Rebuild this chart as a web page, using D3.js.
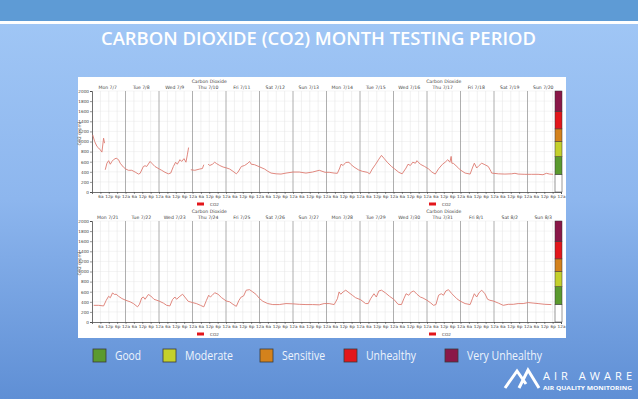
<!DOCTYPE html>
<html>
<head>
<meta charset="utf-8">
<script src="https://cdn.jsdelivr.net/npm/d3@7"></script>
<style>
body { margin: 0; overflow: hidden; }
svg { display: block; }
</style>
</head>
<body>
<div id="chart"></div>
<script>
var width = 638;
var height = 399;

var topDays = ["Mon 7/7", "Tue 7/8", "Wed 7/9", "Thu 7/10", "Fri 7/11", "Sat 7/12", "Sun 7/13",
               "Mon 7/14", "Tue 7/15", "Wed 7/16", "Thu 7/17", "Fri 7/18", "Sat 7/19", "Sun 7/20"];
var bottomDays = ["Mon 7/21", "Tue 7/22", "Wed 7/23", "Thu 7/24", "Fri 7/25", "Sat 7/26", "Sun 7/27",
                  "Mon 7/28", "Tue 7/29", "Wed 7/30", "Thu 7/31", "Fri 8/1", "Sat 8/2", "Sun 8/3"];
var hourLabels = ["6a", "12p", "6p", "12a"];
var yTickValues = [0, 200, 400, 600, 800, 1000, 1200, 1400, 1600, 1800, 2000];

var bandLimits = [0, 350, 700, 1000, 1250, 1600, 2000];
var bandColors = ["#ffffff", "#5b9a2e", "#c4d02c", "#d4821c", "#e3161b", "#8a1748"];

var legendNames = ["Good", "Moderate", "Sensitive", "Unhealthy", "Very Unhealthy"];
var legendColors = ["#5b9a2e", "#c4d02c", "#d4821c", "#e3161b", "#8a1748"];

// [hours from start of row, ppm] - gaps split the series
var topSeries = [
  [[0.5,1130],[1.9,1000],[3.6,900],[4.8,870],[5.9,835],[7.1,790],[8.3,1065],[9.0,967]],
  [[9.5,440],[10.7,570],[11.9,620],[13.1,550],[14.3,605],[15.4,640],[17.3,670],[19.0,640],[20.2,570],[22.6,490],
   [24.2,455],[26.1,430],[28.5,430],[30.9,395],[33.3,355],[34.5,370],[36.8,505],[38.0,520],[39.2,505],[41.6,605],
   [42.8,570],[45.1,505],[48.2,455],[49.9,430],[52.3,390],[54.7,360],[56.4,375],[58.3,505],[59.9,590],[61.1,550],
   [63.0,640],[64.2,605],[65.9,660],[67.3,590],[68.3,735],[69.2,880]],
  [[70.8,440],[73.7,430],[77.2,455],[79.1,465],[80.1,540]],
  [[83.2,550],[84.4,525],[86.3,550],[87.9,590],[89.1,565],[91.5,525],[93.9,495],[96.5,475],[98.6,455],[101.0,410],
   [103.4,360],[104.6,395],[107.0,505],[109.3,525],[111.7,570],[112.9,605],[114.1,550],[116.5,540],[120.3,495],
   [123.6,455],[126.0,410],[128.3,375],[131.9,360],[135.4,355],[139.0,375],[144.0,395],[148.5,395],[153.3,375],
   [158.0,395],[162.8,430],[167.0,390],[169.9,390],[173.5,375],[175.8,370],[177.5,475],[178.4,550],[179.9,525],
   [181.8,585],[184.1,590],[185.3,550],[187.7,495],[190.8,440],[193.6,410],[197.2,390],[198.9,360],[200.8,455],
   [203.2,550],[205.5,650],[207.4,725],[209.1,670],[211.5,590],[214.6,505],[216.9,455],[219.8,390],[222.2,360],
   [225.0,475],[226.4,550],[228.1,525],[229.8,590],[231.7,570],[232.8,620],[235.2,550],[238.3,505],[241.2,455],
   [243.5,395],[245.9,355],[248.3,460],[251.1,550],[253.0,590],[254.9,640],[256.4,590],[257.3,705],[257.8,570],
   [259.0,565],[262.1,487],[263.7,440],[267.3,375],[270.9,355],[272.5,475],[273.9,570],[275.6,475],[277.3,525],
   [279.2,570],[281.5,540],[283.9,505],[285.8,410],[286.3,375],[291.1,360],[295.8,355],[300.6,360],[303.0,370],
   [305.3,355],[310.1,350],[314.8,350],[319.6,350],[323.1,342],[325.5,370],[327.9,355],[330.3,350]]
];

var bottomSeries = [
  [[1.2,330],[4.8,330],[8.3,318],[10.2,430],[11.9,510],[13.1,480],[14.7,575],[16.2,545],[17.3,550],[19.0,510],
   [21.4,465],[24.2,430],[27.3,400],[29.7,365],[32.6,300],[34.0,350],[35.6,475],[36.8,495],[38.0,450],[40.4,545],
   [42.1,515],[44.4,450],[48.0,415],[51.1,375],[53.5,330],[55.8,318],[57.7,445],[59.4,495],[60.6,450],[63.0,510],
   [64.9,550],[66.5,495],[68.9,410],[72.0,385],[74.8,365],[77.7,330],[80.1,300],[82.0,430],[83.6,530],[84.8,495],
   [86.2,530],[87.9,580],[90.3,550],[92.7,485],[96.2,415],[98.6,400],[101.0,350],[103.4,310],[105.3,430],[106.9,495],
   [108.6,515],[110.5,630],[112.9,640],[115.2,595],[117.6,545],[120.0,465],[122.4,410],[125.9,365],[129.5,345],
   [134.2,345],[139.0,365],[143.7,360],[148.5,350],[153.3,345],[158.0,345],[162.8,340],[166.3,365],[169.9,365],
   [173.5,345],[175.8,460],[177.0,595],[178.2,550],[179.9,595],[181.8,630],[184.1,580],[186.5,530],[188.9,480],
   [192.5,440],[196.0,365],[197.9,365],[199.6,460],[202.0,560],[203.7,495],[205.5,615],[207.4,630],[210.3,575],
   [213.1,510],[216.2,450],[219.3,350],[221.7,345],[223.4,460],[225.0,560],[226.9,530],[228.8,595],[230.5,615],
   [232.8,550],[235.2,495],[237.1,475],[240.0,430],[242.3,385],[244.7,330],[246.4,345],[248.3,530],[250.2,560],
   [251.8,530],[253.5,615],[255.4,640],[257.8,560],[261.4,460],[263.7,415],[267.3,365],[270.9,345],[272.5,460],
   [273.9,560],[275.6,495],[277.3,580],[279.2,630],[281.5,560],[283.4,450],[285.1,430],[287.5,415],[291.1,375],
   [294.6,330],[298.2,350],[301.8,350],[305.3,365],[308.9,365],[312.5,385],[316.0,375],[319.6,365],[324.4,350],
   [329.1,345]]
];

var svg = d3.select("#chart")
    .append("svg")
    .attr("width", width)
    .attr("height", height);

var defs = svg.append("defs");
var grad = defs.append("linearGradient")
    .attr("id", "bg")
    .attr("x1", 0).attr("y1", 0).attr("x2", 0).attr("y2", 1);
grad.append("stop").attr("offset", "0%").attr("stop-color", "#a2c8f6");
grad.append("stop").attr("offset", "50%").attr("stop-color", "#8db6ee");
grad.append("stop").attr("offset", "100%").attr("stop-color", "#5f8fd5");

// background
svg.append("rect").attr("x", 0).attr("y", 0).attr("width", width).attr("height", height)
    .attr("fill", "url(#bg)");
svg.append("rect").attr("x", 0).attr("y", 0).attr("width", width).attr("height", 21)
    .attr("fill", "#5e9bd5");
svg.append("rect").attr("x", 0).attr("y", 21).attr("width", width).attr("height", 3)
    .attr("fill", "#ffffff");

svg.append("text")
    .attr("x", 101)
    .attr("y", 45)
    .attr("textLength", 435)
    .attr("lengthAdjust", "spacingAndGlyphs")
    .attr("font-family", "'Open Sans', sans-serif")
    .attr("font-weight", 600)
    .attr("font-size", "18.5px")
    .attr("fill", "#ffffff")
    .text("CARBON DIOXIDE (CO2) MONTH TESTING PERIOD");

// white panel
svg.append("rect").attr("x", 78).attr("y", 77).attr("width", 488).attr("height", 261)
    .attr("fill", "#ffffff");

var x = d3.scaleLinear().domain([0, 336]).range([92, 561]);

function drawRow(top, bottom, days, series, legendY) {
    var y = d3.scaleLinear().domain([0, 2000]).range([bottom, top]);
    var g = svg.append("g").attr("class", "row");

    // horizontal grid
    g.append("g").selectAll("line")
        .data(yTickValues.slice(1))
        .enter().append("line")
        .attr("x1", x(0)).attr("x2", x(336))
        .attr("y1", function (d) { return y(d); })
        .attr("y2", function (d) { return y(d); })
        .attr("stroke", "#e8e8e8").attr("stroke-width", 0.5);

    // vertical grid, darker at midnight
    g.append("g").selectAll("line")
        .data(d3.range(6, 336, 6))
        .enter().append("line")
        .attr("x1", function (d) { return x(d); })
        .attr("x2", function (d) { return x(d); })
        .attr("y1", top).attr("y2", bottom)
        .attr("stroke", function (d) { return d % 24 === 0 ? "#9a9a9a" : "#e0e0e0"; })
        .attr("stroke-width", function (d) { return d % 24 === 0 ? 0.8 : 0.5; });

    // titles
    [84, 252].forEach(function (h) {
        g.append("text")
            .attr("x", x(h)).attr("y", top - 8)
            .attr("text-anchor", "middle")
            .attr("font-family", "DejaVu Sans, sans-serif")
            .attr("font-size", "4.6px")
            .attr("fill", "#444")
            .text("Carbon Dioxide");
    });

    g.append("g").selectAll("text")
        .data(days)
        .enter().append("text")
        .attr("x", function (d, i) { return x(i * 24 + 12) - 1; })
        .attr("y", top - 2)
        .attr("text-anchor", "middle")
        .attr("font-family", "DejaVu Sans, sans-serif")
        .attr("font-size", "4.6px")
        .attr("fill", "#444")
        .text(function (d) { return d; });

    // axes
    var yAxis = d3.axisLeft(y).tickValues(yTickValues).tickSize(2).tickPadding(1)
        .tickFormat(d3.format("d"));
    var ya = g.append("g").attr("transform", "translate(" + x(0) + ",0)").call(yAxis);
    var xAxis = d3.axisBottom(x).tickValues(d3.range(6, 337, 6)).tickSize(2).tickPadding(1)
        .tickFormat(function (d) { return hourLabels[(d / 6 - 1) % 4]; });
    var xa = g.append("g").attr("transform", "translate(0," + bottom + ")").call(xAxis);
    [ya, xa].forEach(function (a) {
        a.select(".domain").attr("stroke", "#333").attr("stroke-width", 0.7);
        a.selectAll(".tick line").attr("stroke", "#333").attr("stroke-width", 0.5);
        a.selectAll("text").attr("font-family", "DejaVu Sans, sans-serif")
            .attr("font-size", "4.2px").attr("fill", "#444");
    });

    g.append("text")
        .attr("transform", "translate(81," + ((top + bottom) / 2 - 8) + ") rotate(-90)")
        .attr("text-anchor", "middle")
        .attr("font-family", "DejaVu Sans, sans-serif")
        .attr("font-size", "4.4px")
        .attr("fill", "#444")
        .text("CO2 (ppm)");

    // CO2 line
    var line = d3.line()
        .x(function (d) { return x(d[0]); })
        .y(function (d) { return y(d[1]); });
    g.append("g").selectAll("path")
        .data(series)
        .enter().append("path")
        .attr("d", line)
        .attr("fill", "none")
        .attr("stroke", "#dd7a70")
        .attr("stroke-width", 0.9);

    // AQ colour bar
    var bands = bandColors.map(function (c, i) {
        return { lo: bandLimits[i], hi: bandLimits[i + 1], color: c };
    });
    g.append("g").selectAll("rect")
        .data(bands)
        .enter().append("rect")
        .attr("x", 555).attr("width", 7)
        .attr("y", function (d) { return y(d.hi); })
        .attr("height", function (d) { return y(d.lo) - y(d.hi); })
        .attr("fill", function (d) { return d.color; })
        .attr("stroke", "#333").attr("stroke-width", 0.5);

    // small CO2 legends
    [197, 429].forEach(function (lx) {
        g.append("rect").attr("x", lx).attr("y", legendY - 1.5).attr("width", 7).attr("height", 3)
            .attr("fill", "#e3161b");
        g.append("text").attr("x", lx + 13).attr("y", legendY + 1.5)
            .attr("font-family", "DejaVu Sans, sans-serif")
            .attr("font-size", "4.2px").attr("fill", "#444")
            .text("CO2");
    });
}

drawRow(91, 192, topDays, topSeries, 204);
drawRow(221, 322, bottomDays, bottomSeries, 334);

// category legend
var legendX = [93, 163, 260, 344, 445];
var legendW = [26, 48, 43, 50, 75];
var legend = svg.append("g").selectAll("g")
    .data(legendNames)
    .enter().append("g")
    .attr("class", "legend");
legend.append("rect")
    .attr("x", function (d, i) { return legendX[i]; })
    .attr("y", 349)
    .attr("width", 13).attr("height", 13)
    .attr("fill", function (d, i) { return legendColors[i]; })
    .attr("stroke", "#3a3a3a").attr("stroke-width", 0.8);
legend.append("text")
    .attr("x", function (d, i) { return legendX[i] + 22; })
    .attr("y", 360)
    .attr("textLength", function (d, i) { return legendW[i]; })
    .attr("lengthAdjust", "spacingAndGlyphs")
    .attr("font-family", "'Open Sans', sans-serif")
    .attr("font-size", "13px")
    .attr("fill", "#eef4fc")
    .text(function (d) { return d; });

// logo
svg.append("path")
    .attr("d", "M505,388 L517,371 L526,384 M519,388 L528,370 L539,388")
    .attr("fill", "none")
    .attr("stroke", "#ffffff")
    .attr("stroke-width", 3);
svg.append("text")
    .attr("x", 543).attr("y", 379.5)
    .attr("textLength", 89)
    .attr("lengthAdjust", "spacing")
    .attr("font-family", "'Open Sans', sans-serif")
    .attr("font-size", "11px")
    .attr("fill", "#ffffff")
    .text("AIR AWARE");
svg.append("text")
    .attr("x", 543).attr("y", 389.5)
    .attr("textLength", 89)
    .attr("lengthAdjust", "spacingAndGlyphs")
    .attr("font-family", "'Open Sans', sans-serif")
    .attr("font-weight", 700)
    .attr("font-size", "5.6px")
    .attr("fill", "#ffffff")
    .text("AIR QUALITY MONITORING");
</script>
</body>
</html>
